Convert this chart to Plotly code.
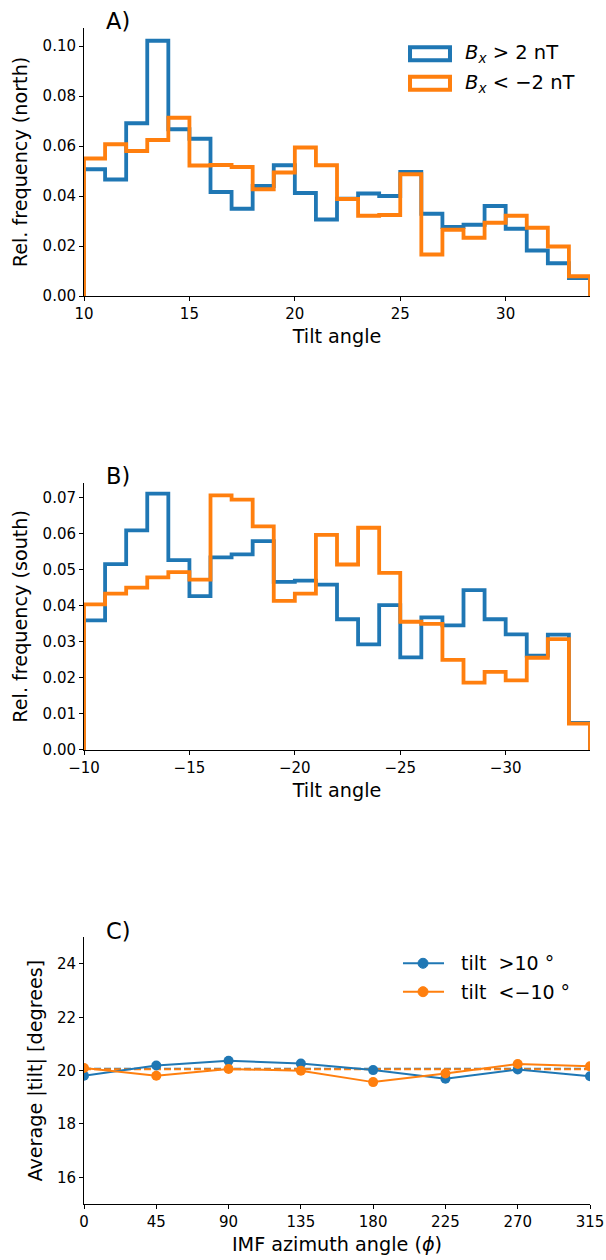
import plotly.graph_objects as go

# ---------------- data ----------------
bin_edges_north = list(range(10, 35))          # 10..34
north_bx_pos = [0.0507, 0.0466, 0.0691, 0.1021, 0.0667, 0.0629, 0.0416, 0.0349,
                0.0440, 0.0523, 0.0412, 0.0306, 0.0389, 0.0410, 0.0400, 0.0496,
                0.0329, 0.0276, 0.0285, 0.0360, 0.0269, 0.0182, 0.0131, 0.0072]
north_bx_neg = [0.0550, 0.0607, 0.0580, 0.0624, 0.0713, 0.0522, 0.0524, 0.0516,
                0.0427, 0.0494, 0.0594, 0.0523, 0.0388, 0.0321, 0.0324, 0.0487,
                0.0166, 0.0265, 0.0233, 0.0293, 0.0321, 0.0273, 0.0198, 0.0079]

bin_edges_south = [-e for e in range(10, 35)]  # -10..-34
south_bx_pos = [0.0360, 0.0516, 0.0610, 0.0712, 0.0527, 0.0427, 0.0535, 0.0543,
                0.0580, 0.0467, 0.0470, 0.0459, 0.0363, 0.0293, 0.0402, 0.0257,
                0.0368, 0.0346, 0.0444, 0.0363, 0.0321, 0.0262, 0.0320, 0.0075]
south_bx_neg = [0.0404, 0.0434, 0.0451, 0.0479, 0.0494, 0.0473, 0.0707, 0.0695,
                0.0621, 0.0414, 0.0434, 0.0597, 0.0515, 0.0617, 0.0492, 0.0356,
                0.0350, 0.0250, 0.0187, 0.0217, 0.0193, 0.0256, 0.0308, 0.0073]

imf_azimuth = [0, 45, 90, 135, 180, 225, 270, 315]
avg_tilt_north = [19.81, 20.19, 20.37, 20.27, 20.02, 19.70, 20.04, 19.79]
avg_tilt_south = [20.10, 19.81, 20.06, 20.00, 19.57, 19.89, 20.25, 20.16]
overall_mean_north = 20.07
overall_mean_south = 20.05

legend_hist = ["<i>B</i><sub><i>x</i></sub> &gt; 2 nT", "<i>B</i><sub><i>x</i></sub> &lt; −2 nT"]
legend_line = ["tilt  &gt;10 °", "tilt  &lt;−10 °"]

BLUE = "#1f77b4"
ORANGE = "#ff7f0e"
FONT = "DejaVu Sans"


def step_xy(edges, vals):
    """matplotlib histtype='step' outline built from edges & values."""
    xs = [edges[0]] + list(edges[:-1]) + [edges[-1], edges[-1]]
    ys = [0] + list(vals) + [vals[-1], 0]
    return xs, ys


fig = go.Figure()

# ---- Panel A ----
for vals, col in [(north_bx_pos, BLUE), (north_bx_neg, ORANGE)]:
    xs, ys = step_xy(bin_edges_north, vals)
    fig.add_trace(go.Scatter(x=xs, y=ys, mode="lines", line=dict(color=col, width=3.8, shape="hv"),
                             showlegend=False, xaxis="x", yaxis="y", hoverinfo="skip"))

# ---- Panel B ----
for vals, col in [(south_bx_pos, BLUE), (south_bx_neg, ORANGE)]:
    xs, ys = step_xy(bin_edges_south, vals)
    fig.add_trace(go.Scatter(x=xs, y=ys, mode="lines", line=dict(color=col, width=3.8, shape="hv"),
                             showlegend=False, xaxis="x2", yaxis="y2", hoverinfo="skip"))

# ---- Panel C ----
for vals, col, name in [(avg_tilt_north, BLUE, legend_line[0]), (avg_tilt_south, ORANGE, legend_line[1])]:
    fig.add_trace(go.Scatter(x=imf_azimuth, y=vals, mode="lines+markers", name=name,
                             line=dict(color=col, width=2), marker=dict(color=col, size=10),
                             xaxis="x3", yaxis="y3", showlegend=False))
for m, col in [(overall_mean_north, BLUE), (overall_mean_south, ORANGE)]:
    fig.add_shape(type="line", xref="x3 domain", yref="y3", x0=0, x1=1, y0=m, y1=m,
                  line=dict(color=col, width=2, dash="7px,3px"), layer="below")

axis_common = dict(showline=True, linecolor="black", linewidth=1, ticks="outside", ticklen=4,
                   tickwidth=1, tickcolor="black", showgrid=False, zeroline=False, automargin=False,
                   tickfont=dict(family=FONT, size=15, color="black"))
title_font = dict(family=FONT, size=19.2, color="black")

fig.update_layout(
    width=606, height=1260,
    margin=dict(l=84, r=16, t=28, b=56),
    paper_bgcolor="white", plot_bgcolor="white",
    font=dict(family=FONT, color="black"),
    showlegend=False,
    xaxis=dict(domain=[0, 1], anchor="y", range=[10, 34], tick0=10, dtick=5,
               title=dict(text="Tilt angle", font=title_font, standoff=7), **axis_common),
    yaxis=dict(domain=[0.7721, 1], anchor="x", range=[0, 0.1072], tick0=0, dtick=0.02, tickformat=".2f",
               title=dict(text="Rel. frequency (north)", font=title_font, standoff=9), **axis_common),
    xaxis2=dict(domain=[0, 1], anchor="y2", range=[-10, -34], tick0=-10, dtick=5,
                title=dict(text="Tilt angle", font=title_font, standoff=7), **axis_common),
    yaxis2=dict(domain=[0.3861, 0.6133], anchor="x2", range=[0, 0.0742], tick0=0, dtick=0.01,
                tickformat=".2f",
                title=dict(text="Rel. frequency (south)", font=title_font, standoff=9), **axis_common),
    xaxis3=dict(domain=[0, 1], anchor="y3", range=[0, 315], tick0=0, dtick=45,
                title=dict(text="IMF azimuth angle (<i>ϕ</i>)", font=title_font, standoff=7), **axis_common),
    yaxis3=dict(domain=[0, 0.2268], anchor="x3", range=[15, 25], tick0=16, dtick=2,
                title=dict(text="Average |tilt| [degrees]", font=title_font, standoff=9), **axis_common),
)

# panel letters
for lab, xr, yr in [("A)", "x domain", "y domain"), ("B)", "x2 domain", "y2 domain"), ("C)", "x3 domain", "y3 domain")]:
    fig.add_annotation(text=lab, xref=xr, yref=yr, x=0.040, y=1.025, xanchor="left", yanchor="middle",
                       showarrow=False, font=dict(family=FONT, size=22.5, color="black"))

# legend for step histograms (outlined boxes), panel A
for i, (txt, col) in enumerate(zip(legend_hist, [BLUE, ORANGE])):
    yc = 0.9037 - i * 0.110
    fig.add_shape(type="rect", xref="x domain", yref="y domain", x0=0.6443, x1=0.7233,
                  y0=yc - 0.0243, y1=yc + 0.0243, line=dict(color=col, width=4), fillcolor="white")
    fig.add_annotation(text=txt, xref="x domain", yref="y domain", x=0.749, y=yc, xanchor="left",
                       yanchor="middle", showarrow=False, font=dict(family=FONT, size=19.5, color="black"))

# legend for line plot, panel C
for i, (txt, col) in enumerate(zip(legend_line, [BLUE, ORANGE])):
    yc = 0.9025 - i * 0.1065
    fig.add_shape(type="line", xref="x3 domain", yref="y3 domain", x0=0.6304, x1=0.7115,
                  y0=yc, y1=yc, line=dict(color=col, width=2))
    fig.add_shape(type="circle", xref="x3 domain", yref="y3 domain", x0=0.670 - 0.0099, x1=0.670 + 0.0099,
                  y0=yc - 0.0188, y1=yc + 0.0188, line=dict(color=col, width=1), fillcolor=col)
    fig.add_annotation(text=txt, xref="x3 domain", yref="y3 domain", x=0.7411, y=yc, xanchor="left",
                       yanchor="middle", showarrow=False, font=dict(family=FONT, size=19, color="black"))

fig.write_html("out.html", config={"displayModeBar": False},
               post_script="document.body.style.margin='0px';")
